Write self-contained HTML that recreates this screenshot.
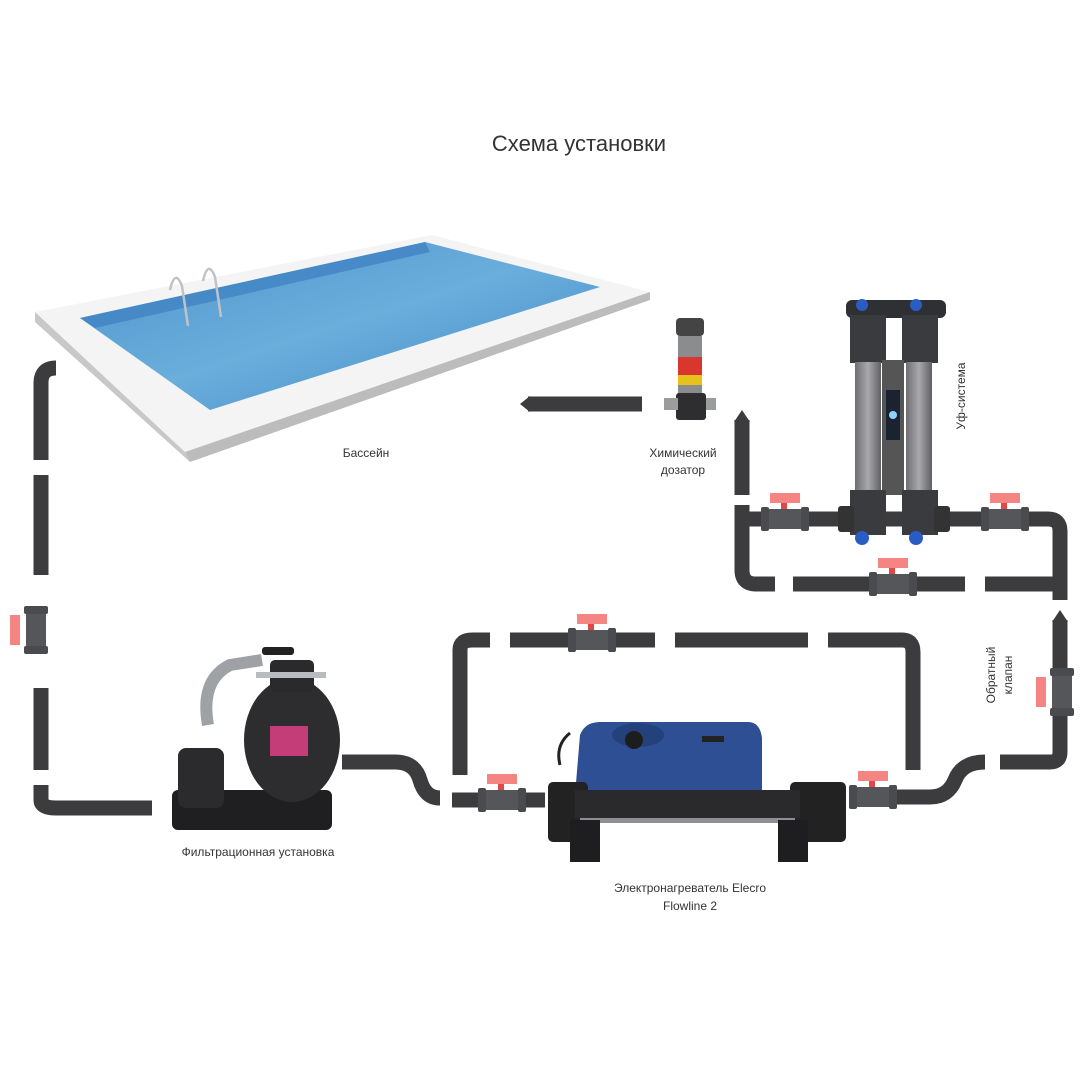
<!DOCTYPE html>
<html><head><meta charset="utf-8"><style>
html,body{margin:0;padding:0;background:#fff}
svg{display:block}
text{font-family:"Liberation Sans",Arial,sans-serif;fill:#333}
</style></head><body>
<svg width="1080" height="1080" viewBox="0 0 1080 1080" xmlns="http://www.w3.org/2000/svg">
<defs>
<linearGradient id="water" x1="0" y1="0" x2="1" y2="1">
<stop offset="0" stop-color="#4f93cc"/><stop offset="0.5" stop-color="#6aaedc"/><stop offset="1" stop-color="#3f86c4"/>
</linearGradient>
<linearGradient id="tube" x1="0" x2="1">
<stop offset="0" stop-color="#6e6e72"/><stop offset="0.5" stop-color="#a9a9ad"/><stop offset="1" stop-color="#606064"/>
</linearGradient>
<g id="valveH">
<rect x="-22" y="-10" width="44" height="20" rx="3" fill="#55565a"/>
<rect x="-24" y="-12" width="8" height="24" rx="2" fill="#4a4b4f"/>
<rect x="16" y="-12" width="8" height="24" rx="2" fill="#4a4b4f"/>
<rect x="-4" y="-18" width="6" height="8" fill="#e04848"/>
<rect x="-15" y="-26" width="30" height="10" fill="#f48582"/>
</g>
<g id="valveV">
<rect x="-10" y="-22" width="20" height="44" rx="3" fill="#55565a"/>
<rect x="-12" y="-24" width="24" height="8" rx="2" fill="#4a4b4f"/>
<rect x="-12" y="16" width="24" height="8" rx="2" fill="#4a4b4f"/>
<rect x="-26" y="-15" width="10" height="30" fill="#f48582"/>
</g>
</defs>

<text x="579" y="151" font-size="22" text-anchor="middle" fill="#222">Схема установки</text>

<!-- Pool -->
<polygon points="35,312 432,235 650,292 185,452" fill="#f4f4f4"/>
<polygon points="35,312 185,452 190,462 35,322" fill="#c8c8c8"/>
<polygon points="185,452 650,292 650,300 190,462" fill="#bcbcbc"/>
<polygon points="80,318 425,242 600,287 210,410" fill="url(#water)"/>
<polygon points="80,318 425,242 430,252 95,328" fill="#3c7fc0" opacity="0.7"/>
<g stroke="#bfc3c8" stroke-width="2.5" fill="none">
<path d="M170,290 q5,-22 12,-4 l6,40"/><path d="M203,281 q5,-22 12,-4 l6,40"/>
</g>

<!-- Pipes -->
<g stroke="#3c3c3e" stroke-width="15" fill="none" stroke-linejoin="round">
<path d="M56,368 Q41,368 41,383 L41,460"/>
<path d="M41,475 L41,575"/>
<path d="M41,688 L41,770"/>
<path d="M41,785 L41,800 Q41,808 56,808 L152,808"/>
<path d="M528,404 L642,404"/>
<path d="M742,420 L742,495"/>
<path d="M742,505 L742,570 Q742,584 756,584 L775,584"/>
<path d="M793,584 L965,584"/>
<path d="M985,584 L1060,584"/>
<path d="M742,519 L1048,519 Q1060,519 1060,531 L1060,600"/>
<path d="M1060,620 L1060,752 Q1060,762 1050,762 L1000,762"/>
<path d="M985,762 Q962,762 955,780 Q948,797 930,797 L850,797"/>
<path d="M460,775 L460,650 Q460,640 472,640 L490,640"/>
<path d="M510,640 L655,640"/>
<path d="M675,640 L808,640"/>
<path d="M828,640 L902,640 Q913,640 913,652 L913,770"/>
<path d="M342,762 L395,762 Q415,762 420,780 Q425,798 440,798"/>
<path d="M452,800 L545,800"/>
</g>
<!-- arrow tips -->
<g fill="#3c3c3e">
<polygon points="520,404 530,396 530,412"/>
<polygon points="742,410 734,422 750,422"/>
<polygon points="1060,610 1052,622 1068,622"/>
</g>

<!-- Valves -->
<use href="#valveV" x="36" y="630"/>
<use href="#valveH" x="785" y="519"/>
<use href="#valveH" x="1005" y="519"/>
<use href="#valveH" x="893" y="584"/>
<use href="#valveH" x="592" y="640"/>
<use href="#valveH" x="502" y="800"/>
<use href="#valveH" x="873" y="797"/>
<use href="#valveV" x="1062" y="692"/>

<!-- Chemical dosator -->
<rect x="676" y="318" width="28" height="18" rx="4" fill="#444"/>
<rect x="678" y="336" width="24" height="22" fill="#8a8c8e"/>
<rect x="678" y="357" width="24" height="18" fill="#d9362e"/>
<rect x="678" y="375" width="24" height="10" fill="#e8c21c"/>
<rect x="678" y="385" width="24" height="10" fill="#8a8c8e"/>
<rect x="676" y="393" width="30" height="27" rx="3" fill="#2e2e30"/>
<rect x="664" y="398" width="14" height="12" fill="#9a9c9e"/>
<rect x="706" y="398" width="10" height="12" fill="#9a9c9e"/>

<!-- UV system -->
<rect x="846" y="300" width="100" height="18" rx="6" fill="#2f3034"/>
<circle cx="862" cy="305" r="6" fill="#2a5cc4"/><circle cx="916" cy="305" r="6" fill="#2a5cc4"/>
<rect x="850" y="315" width="36" height="48" fill="#3a3b3f"/>
<rect x="902" y="315" width="36" height="48" fill="#3a3b3f"/>
<rect x="855" y="362" width="26" height="130" fill="url(#tube)"/>
<rect x="906" y="362" width="26" height="130" fill="url(#tube)"/>
<rect x="882" y="360" width="22" height="135" fill="#555"/>
<rect x="886" y="390" width="14" height="50" fill="#1b2230"/>
<circle cx="893" cy="415" r="4" fill="#8fd0ff"/>
<rect x="850" y="490" width="36" height="45" fill="#3a3b3f"/>
<rect x="902" y="490" width="36" height="45" fill="#3a3b3f"/>
<rect x="838" y="506" width="16" height="26" rx="3" fill="#333"/>
<rect x="934" y="506" width="16" height="26" rx="3" fill="#333"/>
<circle cx="862" cy="538" r="7" fill="#2a5cc4"/><circle cx="916" cy="538" r="7" fill="#2a5cc4"/>

<!-- Filter -->
<path d="M208,725 Q200,680 230,665 L262,660" stroke="#9ea2a6" stroke-width="12" fill="none"/>
<rect x="172" y="790" width="160" height="40" rx="6" fill="#1f1f21"/>
<rect x="178" y="748" width="46" height="60" rx="8" fill="#2b2b2d"/>
<ellipse cx="292" cy="740" rx="48" ry="62" fill="#2d2d30"/>
<rect x="270" y="660" width="44" height="32" rx="5" fill="#2a2a2c"/>
<rect x="262" y="647" width="32" height="8" rx="3" fill="#222"/>
<rect x="270" y="726" width="38" height="30" fill="#c43c78"/>
<rect x="256" y="672" width="70" height="6" fill="#b8bbbf"/>

<!-- Heater -->
<path d="M580,735 Q585,722 600,722 L748,722 Q760,722 762,738 L762,795 L575,795 Z" fill="#2e4f94"/>
<ellipse cx="638" cy="735" rx="26" ry="12" fill="#25417c"/>
<circle cx="634" cy="740" r="9" fill="#1d1d1d"/>
<rect x="702" y="736" width="22" height="6" fill="#222"/>
<rect x="548" y="782" width="40" height="60" rx="5" fill="#222"/>
<rect x="790" y="782" width="56" height="60" rx="5" fill="#222"/>
<rect x="575" y="790" width="225" height="28" fill="#2a2a2c"/>
<rect x="580" y="818" width="215" height="5" fill="#8d9094"/>
<rect x="570" y="820" width="30" height="42" fill="#1e1e20"/>
<rect x="778" y="820" width="30" height="42" fill="#1e1e20"/>
<path d="M560,765 q-5,-20 10,-32" stroke="#222" stroke-width="3" fill="none"/>

<!-- Labels -->
<text x="366" y="457" font-size="12" text-anchor="middle">Бассейн</text>
<text x="683" y="457" font-size="12" text-anchor="middle">Химический</text>
<text x="683" y="474" font-size="12" text-anchor="middle">дозатор</text>
<text transform="translate(965,396) rotate(-90)" font-size="12" text-anchor="middle">Уф-система</text>
<text transform="translate(995,675) rotate(-90)" font-size="12" text-anchor="middle">Обратный</text>
<text transform="translate(1012,675) rotate(-90)" font-size="12" text-anchor="middle">клапан</text>
<text x="258" y="856" font-size="12" text-anchor="middle">Фильтрационная установка</text>
<text x="690" y="892" font-size="12" text-anchor="middle">Электронагреватель Elecro</text>
<text x="690" y="910" font-size="12" text-anchor="middle">Flowline 2</text>
</svg>
</body></html>
